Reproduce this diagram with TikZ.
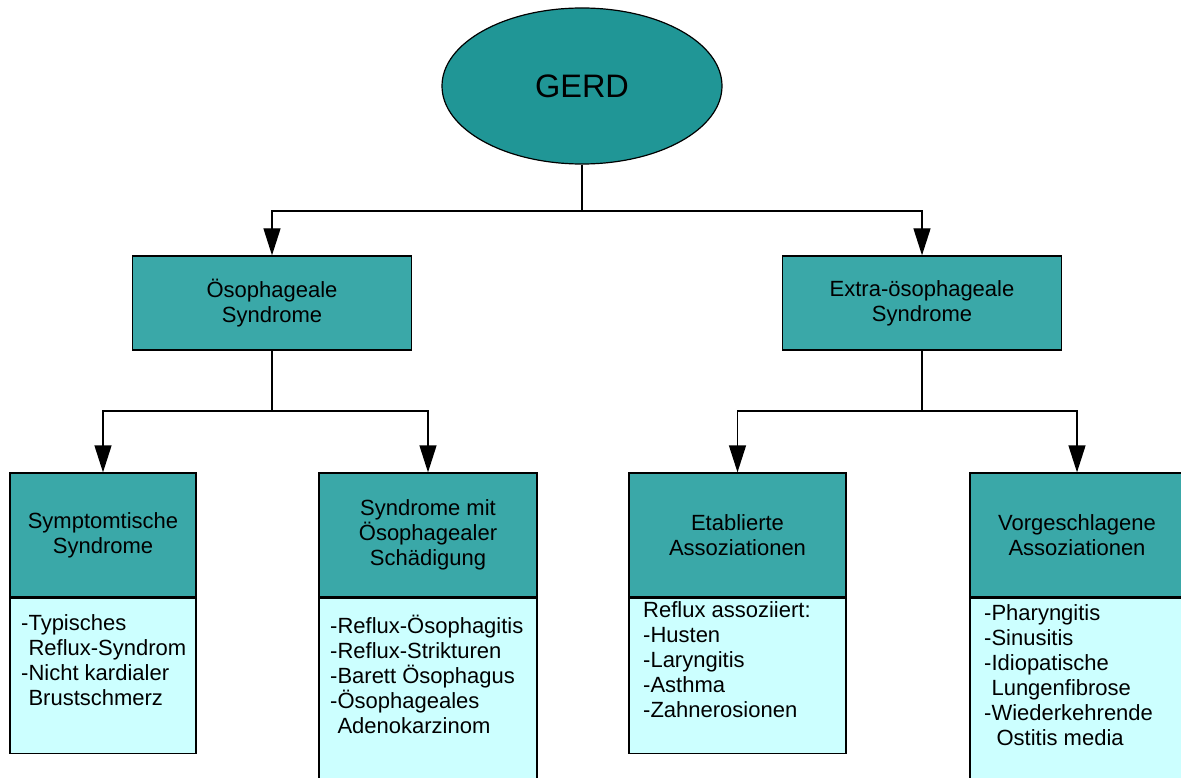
\documentclass[tikz,border=0pt]{standalone}
\usepackage{fontspec}
\setmainfont{Liberation Sans}
\usetikzlibrary{arrows.meta,shapes.geometric}
\definecolor{ellteal}{RGB}{32,150,150}
\definecolor{boxteal}{RGB}{58,168,168}
\definecolor{lightcyan}{RGB}{204,255,255}
\tikzset{
  conn/.style={line width=1.3pt,draw=black},
  arr/.style={conn,-{Triangle[length=27pt,width=17pt]}},
  head/.style={draw=black,line width=1.3pt,fill=boxteal,inner sep=0pt},
  body/.style={draw=black,line width=1.3pt,fill=lightcyan,inner sep=0pt},
  htext/.style={align=center,font=\fontsize{22}{25}\selectfont,inner sep=0pt},
  btext/.style={align=left,anchor=base west,font=\fontsize{22}{25}\selectfont,inner sep=0pt},
}
\begin{document}
\begin{tikzpicture}[x=1pt,y=-1pt]
\useasboundingbox (0,0) rectangle (1181,778);
\clip (0,0) rectangle (1181,778);
\fill[white] (0,0) rectangle (1181,778);
% root
\node[ellipse,draw=black,line width=1.2pt,fill=ellteal,minimum width=280pt,minimum height=156pt,inner sep=0pt,font=\fontsize{32.5}{38}\selectfont] (gerd) at (582,86) {GERD};
% level 1
\node[head,minimum width=279pt,minimum height=94pt,htext] (oes) at (272,303) {Ösophageale\\Syndrome};
\node[head,minimum width=279pt,minimum height=94pt,htext] (extra) at (922,303) {Extra-ösophageale\\Syndrome};
% level 2 headers
\node[head,minimum width=186pt,minimum height=124pt,htext] (sym) at (103,535) {Symptomtische\\Syndrome};
\node[head,minimum width=218pt,minimum height=124pt,htext] (sch) at (428,535) {Syndrome mit\\Ösophagealer\\Schädigung};
\node[head,minimum width=217pt,minimum height=124pt,htext] (eta) at (737.5,535) {Etablierte\\Assoziationen};
\node[head,minimum width=214pt,minimum height=124pt,htext] (vor) at (1077,535) {Vorgeschlagene\\Assoziationen};
% bodies
\node[body,minimum width=186pt,minimum height=155pt,anchor=north] (symb) at (sym.south) {};
\node[body,minimum width=218pt,minimum height=200pt,anchor=north] (schb) at (sch.south) {};
\node[body,minimum width=217pt,minimum height=155pt,anchor=north] (etab) at (eta.south) {};
\node[body,minimum width=214pt,minimum height=200pt,anchor=north] (vorb) at (vor.south) {};
% body texts (anchored at the baseline of the last line)
\node[btext] (symt) at (21,705) {-Typisches\\\phantom{-}Reflux-Syndrom\\-Nicht kardialer\\\phantom{-}Brustschmerz};
\node[btext] (scht) at (330,733) {-Reflux-Ösophagitis\\-Reflux-Strikturen\\-Barett Ösophagus\\-Ösophageales\\\phantom{-}Adenokarzinom};
\node[btext] (etat) at (643,717) {Reflux assoziiert:\\-Husten\\-Laryngitis\\-Asthma\\-Zahnerosionen};
\node[btext] (vort) at (984,745) {-Pharyngitis\\-Sinusitis\\-Idiopatische\\\phantom{-}Lungenfibrose\\-Wiederkehrende\\\phantom{-}\hspace{5pt}Ostitis media};
% connectors
\coordinate (j0) at (582,211);
\coordinate (j1) at (272,411);
\coordinate (j2) at (922,411);
\draw[conn] (gerd.south) -- (j0);
\draw[arr] (j0) -| (oes.north);
\draw[arr] (j0) -| (extra.north);
\draw[conn] (oes.south) -- (j1);
\draw[arr] (j1) -| (sym.north);
\draw[arr] (j1) -| (sch.north);
\draw[conn] (extra.south) -- (j2);
\draw[arr] (j2) -| (eta.north);
\draw[arr] (j2) -| (vor.north);
\end{tikzpicture}
\end{document}
